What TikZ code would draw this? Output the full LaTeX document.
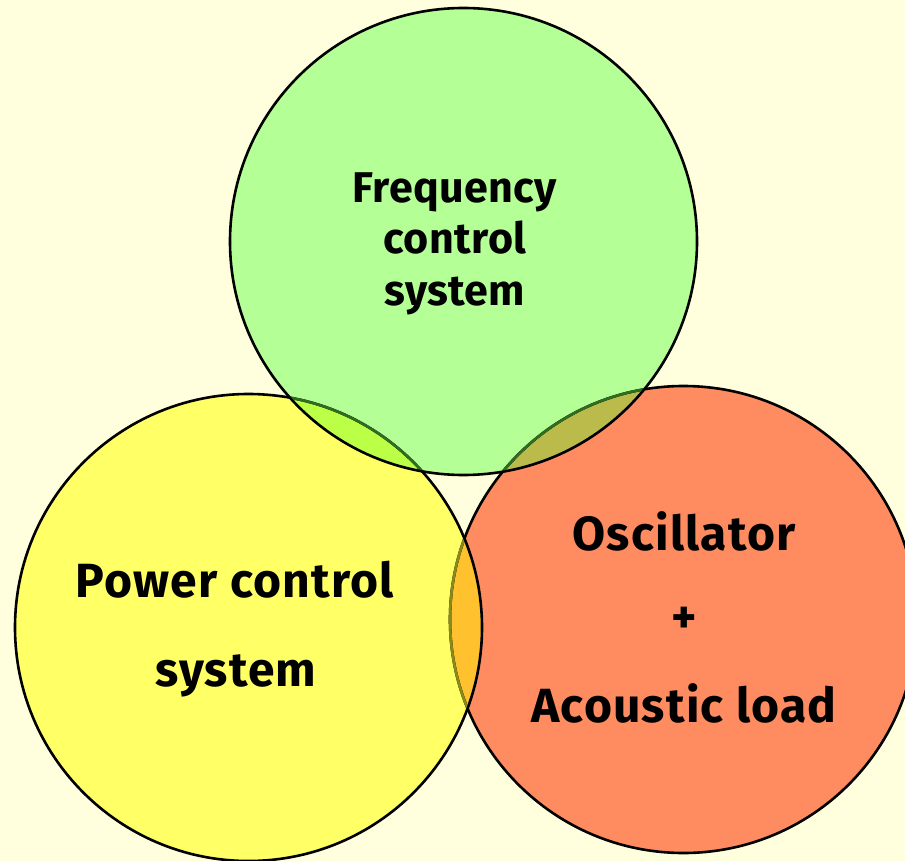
\documentclass[tikz,border=0pt]{standalone}
\usepackage{fontspec}
\setmainfont{Fira Sans}
\definecolor{cream}{HTML}{FFFFDD}
\definecolor{cgreen}{HTML}{B4FF96}
\definecolor{cyellow}{HTML}{FFFF66}
\definecolor{corange}{HTML}{FF8C60}
\definecolor{lensGY}{HTML}{BBFF46}
\definecolor{lensGO}{HTML}{BBBB4C}
\definecolor{lensYO}{HTML}{FFC12E}
\definecolor{edgeG}{HTML}{2E6E1E}
\definecolor{edgeY}{HTML}{8A8A18}
\tikzset{
  lbl/.style={font=\fontsize{43}{50}\selectfont\bfseries\addfontfeatures{LetterSpace=1}, inner sep=0pt, anchor=base},
  biglbl/.style={font=\fontsize{48}{56}\selectfont\bfseries\addfontfeatures{LetterSpace=2.5}, inner sep=0pt, anchor=base},
  rim/.style={line width=2.6pt},
}
\begin{document}
\begin{tikzpicture}[x=1pt,y=-1pt]
\fill[cream] (0,0) rectangle (905,861);
\useasboundingbox (0,0) rectangle (905,861);
\def\R{233.5}
\coordinate (cg) at (463.5,241.5);
\coordinate (cy) at (248.5,627.5);
\coordinate (co) at (683.5,619.5);
% fills
\fill[corange] (co) circle[radius=\R];
\fill[cyellow] (cy) circle[radius=\R];
\fill[cgreen] (cg) circle[radius=\R];
\begin{scope}
  \clip (cg) circle[radius=\R];
  \fill[lensGY] (cy) circle[radius=\R];
  \fill[lensGO] (co) circle[radius=\R];
\end{scope}
\begin{scope}
  \clip (cy) circle[radius=\R];
  \fill[lensYO] (co) circle[radius=\R];
\end{scope}
% outlines
\draw[rim] (co) circle[radius=\R];
\draw[rim] (cy) circle[radius=\R];
\draw[rim] (cg) circle[radius=\R];
\begin{scope}
  \clip (cg) circle[radius=\R-1.3];
  \draw[rim, edgeG] (cy) circle[radius=\R];
  \draw[rim, edgeG] (co) circle[radius=\R];
\end{scope}
\begin{scope}
  \clip (cy) circle[radius=\R-1.3];
  \draw[rim, edgeY] (co) circle[radius=\R];
\end{scope}
% texts
\node[lbl] (f1) at (455,203) {Frequency};
\node[lbl] (f2) at (455,254) {control};
\node[lbl] (f3) at (455,305) {system};
\node[biglbl] (p1) at (235,597) {Power control};
\node[biglbl] (p2) at (236,686) {system};
\node[biglbl] (o1) at (684,550) {Oscillator};
\node[biglbl, anchor=center] (o2) at (684,620) {+};
\node[biglbl] (o3) at (684,722) {Acoustic load};
\end{tikzpicture}
\end{document}
